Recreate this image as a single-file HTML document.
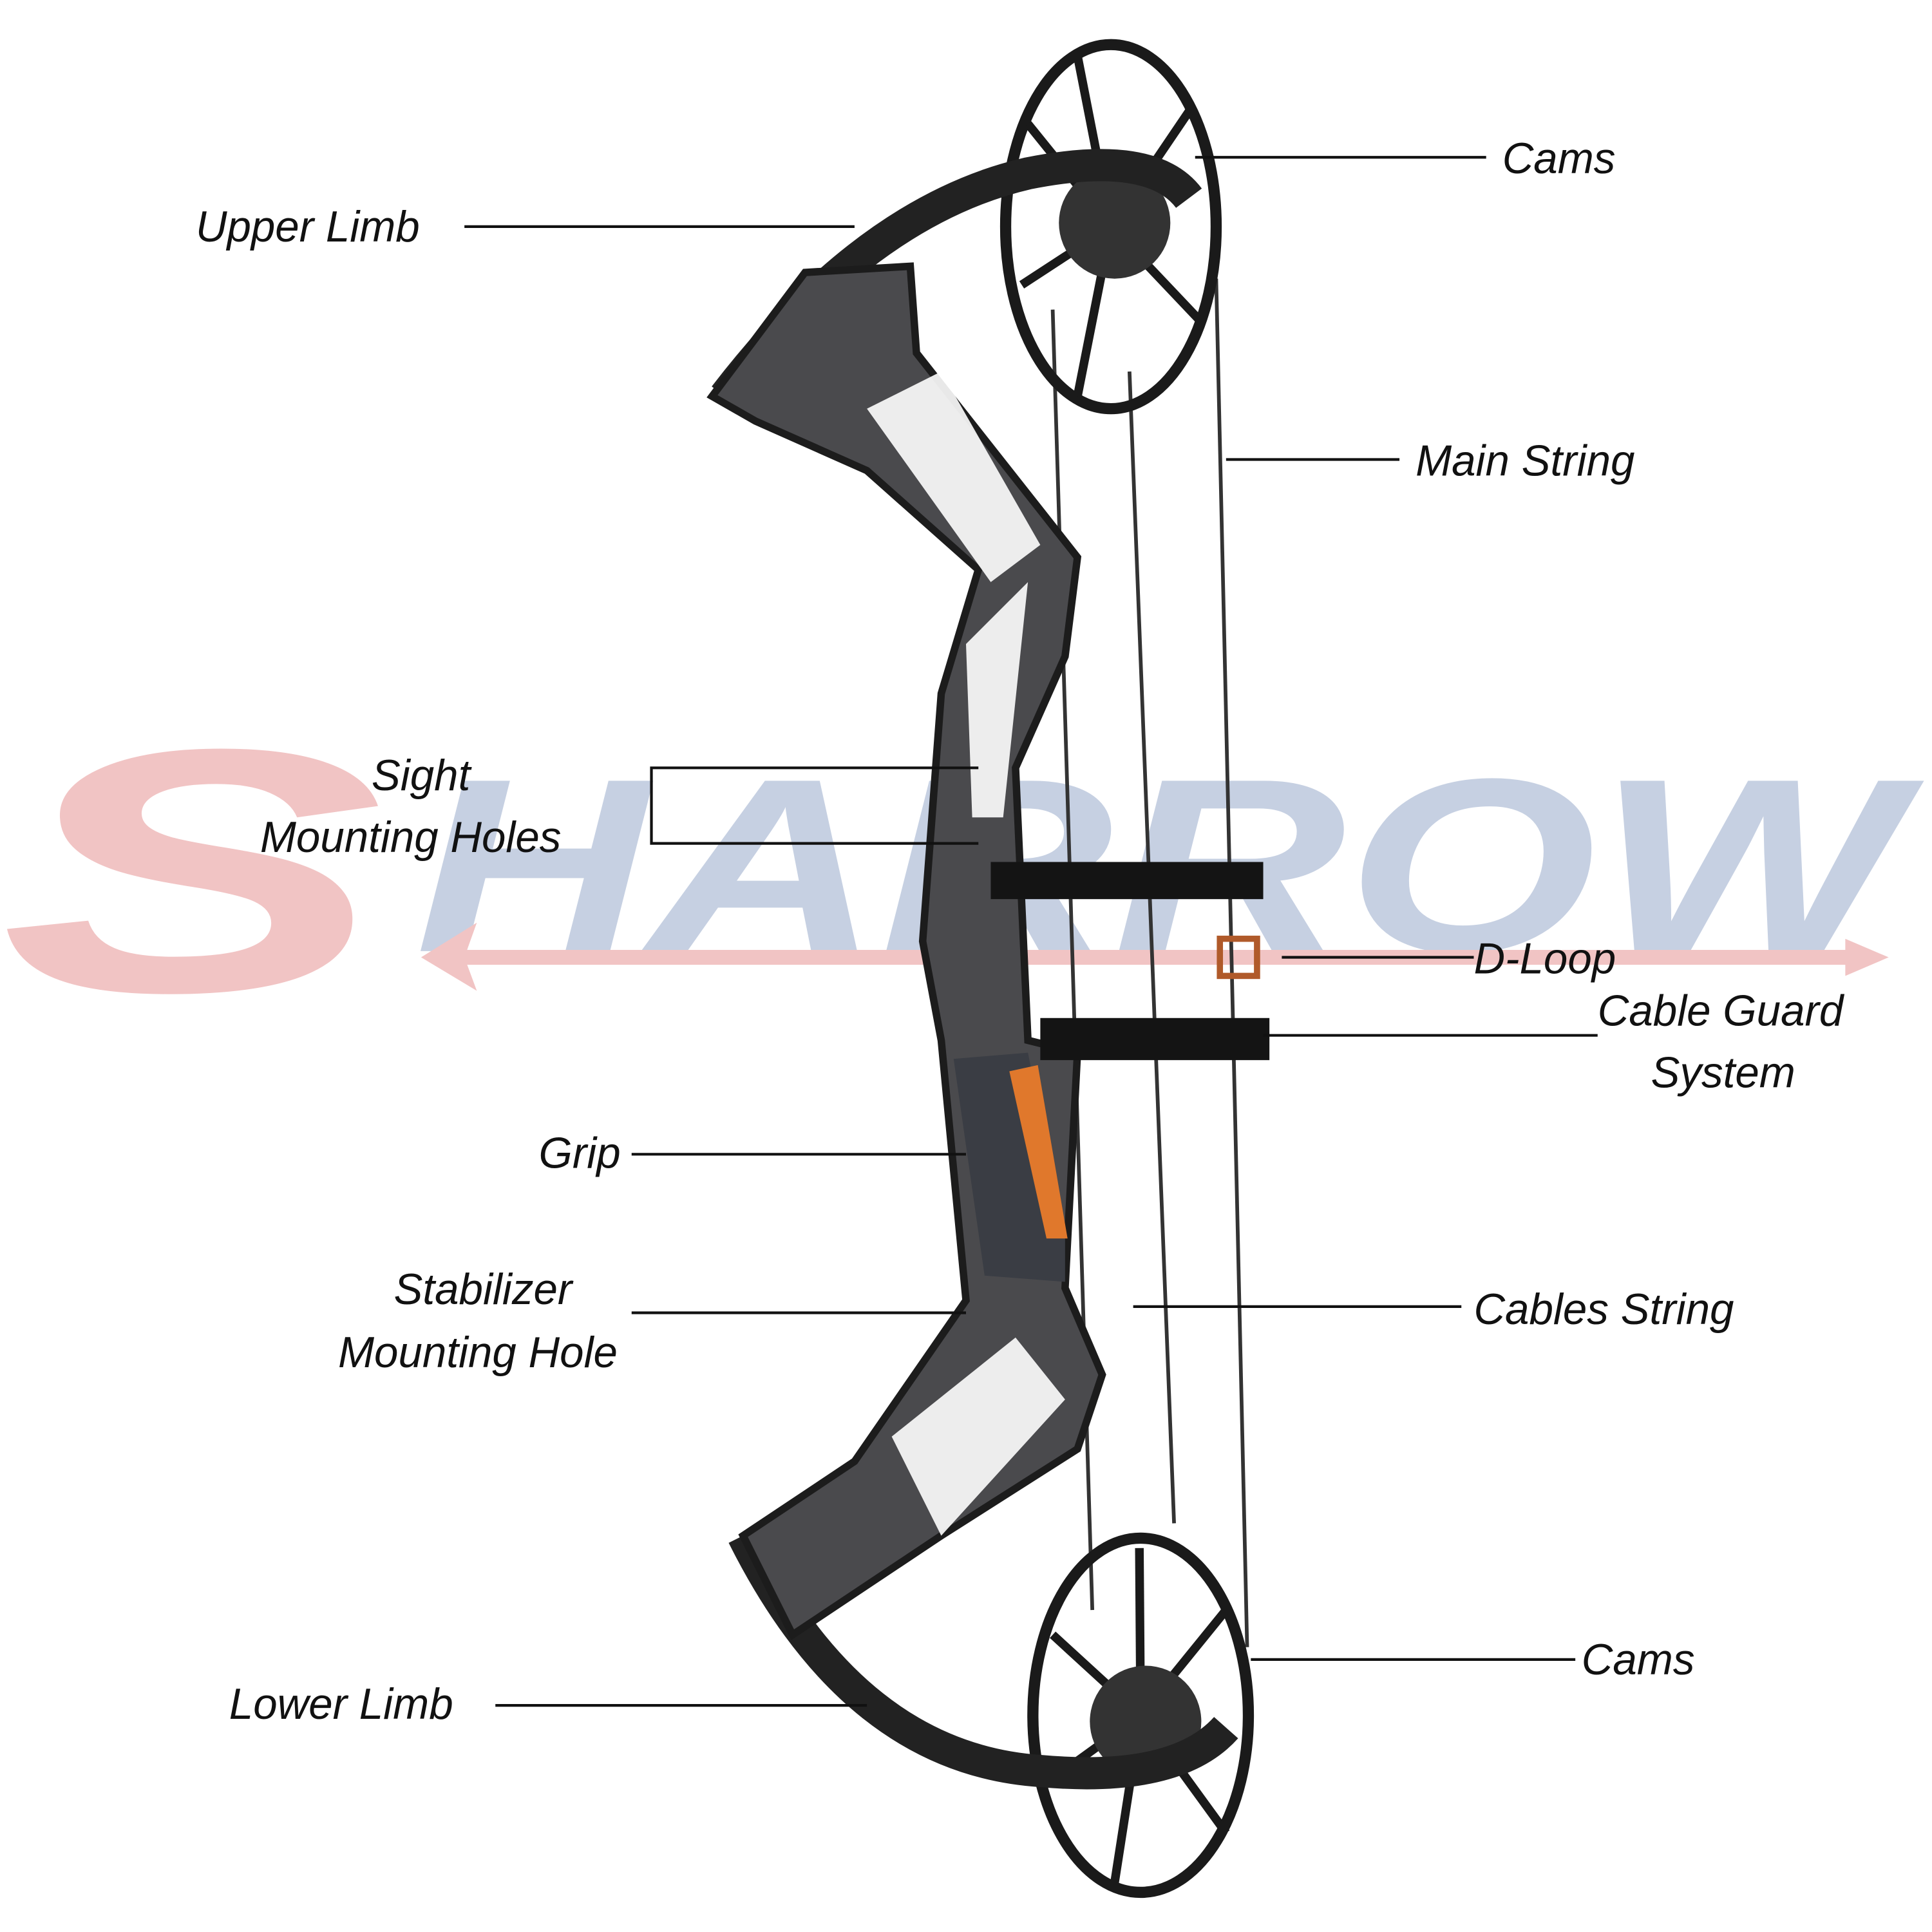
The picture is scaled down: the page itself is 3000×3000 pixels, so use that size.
<!DOCTYPE html>
<html><head><meta charset="utf-8"><style>
html,body{margin:0;padding:0;background:#fff;}
svg{display:block;}
text.l{font-family:"Liberation Sans",sans-serif;font-style:italic;font-size:35px;fill:#111;}
</style></head><body>
<svg width="3000" height="3000" viewBox="0 0 1560 1560" xmlns="http://www.w3.org/2000/svg">
<rect width="1560" height="1560" fill="#fff"/>
<!-- watermark -->
<g opacity="0.5">
<text x="0" y="800" font-family="Liberation Sans,sans-serif" font-weight="bold" font-style="italic" font-size="280" fill="#e58a8a" textLength="310" lengthAdjust="spacingAndGlyphs">S</text>
<text x="335" y="768" font-family="Liberation Sans,sans-serif" font-weight="bold" font-style="italic" font-size="200" fill="#8fa3c6" textLength="1200" lengthAdjust="spacingAndGlyphs">HARROW</text>
<line x1="360" y1="773" x2="1500" y2="773" stroke="#e58a8a" stroke-width="12"/>
<polygon points="1490,758 1525,773 1490,788" fill="#e58a8a"/>
<polygon points="340,773 385,745 375,773 385,800" fill="#e58a8a"/>
</g>
<!-- strings -->
<g stroke="#333" fill="none">
<line x1="982" y1="225" x2="1007" y2="1330" stroke-width="3"/>
<line x1="850" y1="250" x2="882" y2="1300" stroke-width="3"/>
<line x1="912" y1="300" x2="948" y2="1230" stroke-width="3"/>
</g>
<!-- cams -->
<g fill="none" stroke="#1a1a1a">
<ellipse cx="897" cy="183" rx="85" ry="147" stroke-width="9"/>
<ellipse cx="921" cy="1385" rx="87" ry="143" stroke-width="9"/>
<g stroke-width="7">
<line x1="897" y1="183" x2="830" y2="100"/><line x1="897" y1="183" x2="960" y2="90"/>
<line x1="897" y1="183" x2="825" y2="230"/><line x1="897" y1="183" x2="870" y2="320"/>
<line x1="897" y1="183" x2="970" y2="260"/><line x1="897" y1="183" x2="870" y2="45"/>
<line x1="921" y1="1385" x2="850" y2="1320"/><line x1="921" y1="1385" x2="990" y2="1300"/>
<line x1="921" y1="1385" x2="845" y2="1440"/><line x1="921" y1="1385" x2="900" y2="1520"/>
<line x1="921" y1="1385" x2="990" y2="1480"/><line x1="921" y1="1385" x2="920" y2="1250"/>
</g>
</g>
<circle cx="900" cy="180" r="45" fill="#333"/>
<circle cx="925" cy="1390" r="45" fill="#333"/>
<!-- limbs -->
<path d="M585,320 Q700,170 830,140 Q930,120 960,160" stroke="#222" stroke-width="26" fill="none"/>
<path d="M600,1240 Q690,1420 840,1430 Q950,1440 990,1395" stroke="#222" stroke-width="26" fill="none"/>
<!-- riser -->
<path d="M575,320 L650,220 L735,215 L740,285 L870,450 L860,530 L820,620 L830,840 L870,850 L860,1040 L890,1110 L870,1170 L760,1240 L640,1320 L600,1240 L690,1180 L780,1050 L760,840 L745,760 L760,560 L790,460 L700,380 L610,340 Z" fill="#4a4a4d" stroke="#1c1c1c" stroke-width="6"/>
<path d="M770,855 L830,850 L860,1000 L860,1035 L795,1030 Z" fill="#3a3d44"/>
<path d="M815,865 L838,860 L862,1000 L845,1000 Z" fill="#e0782c"/>
<g fill="#fff" opacity="0.9">
<path d="M700,330 L760,300 L840,440 L800,470 Z"/>
<path d="M780,520 L830,470 L810,660 L785,660 Z"/>
<path d="M720,1160 L820,1080 L860,1130 L760,1240 Z"/>
</g>
<!-- cable guard -->
<rect x="800" y="696" width="220" height="30" fill="#141414"/>
<rect x="840" y="822" width="185" height="34" fill="#141414"/>
<rect x="985" y="758" width="30" height="30" fill="none" stroke="#b05a2a" stroke-width="5"/>
<!-- leader lines -->
<g stroke="#111" stroke-width="2.2" fill="none">
<line x1="965" y1="127" x2="1200" y2="127"/>
<line x1="375" y1="183" x2="690" y2="183"/>
<line x1="990" y1="371" x2="1130" y2="371"/>
<polyline points="790,620 526,620 526,681 790,681"/>
<line x1="1035" y1="773" x2="1190" y2="773"/>
<line x1="1020" y1="836" x2="1290" y2="836"/>
<line x1="510" y1="932" x2="780" y2="932"/>
<line x1="510" y1="1060" x2="780" y2="1060"/>
<line x1="915" y1="1055" x2="1180" y2="1055"/>
<line x1="1010" y1="1340" x2="1272" y2="1340"/>
<line x1="400" y1="1377" x2="700" y2="1377"/>
</g>
<!-- labels -->
<text class="l" x="1213" y="140">Cams</text>
<text class="l" x="158" y="195">Upper Limb</text>
<text class="l" x="1143" y="384">Main String</text>
<text class="l" x="300" y="638">Sight</text>
<text class="l" x="210" y="688">Mounting Holes</text>
<text class="l" x="1190" y="786">D-Loop</text>
<text class="l" x="1290" y="828">Cable Guard</text>
<text class="l" x="1333" y="878">System</text>
<text class="l" x="435" y="943">Grip</text>
<text class="l" x="318" y="1053">Stabilizer</text>
<text class="l" x="273" y="1104">Mounting Hole</text>
<text class="l" x="1190" y="1069">Cables String</text>
<text class="l" x="1277" y="1352">Cams</text>
<text class="l" x="185" y="1388">Lower Limb</text>
</svg>
</body></html>
